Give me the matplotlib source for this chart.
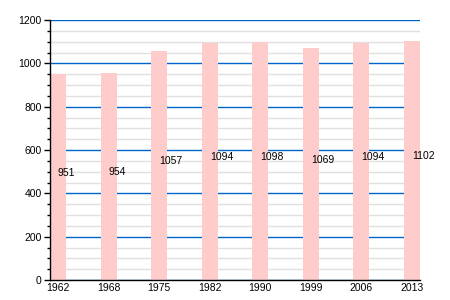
import numpy as np
import matplotlib.pyplot as plt
from matplotlib.ticker import MultipleLocator

plt.rcParams['font.family'] = ['Liberation Sans', 'DejaVu Sans']

years = ["1962", "1968", "1975", "1982", "1990", "1999", "2006", "2013"]
population = [951, 954, 1057, 1094, 1098, 1069, 1094, 1102]

fig = plt.figure(figsize=(4.5, 3), dpi=100)
ax = fig.add_axes([50 / 450, 20 / 300, 370 / 450, 260 / 300])

w = 0.316
x = np.arange(len(years))
ax.bar(x, population, width=w, color="#ffcccc", zorder=3)

for xi, v in zip(x, population):
    ax.annotate(str(v), (xi, v / 2), xytext=(0, 3), textcoords="offset points",
                ha="left", va="center", fontsize=7.5, zorder=4)

ax.set_xlim(-w / 2, len(years) - 1 + w / 2)
ax.set_ylim(0, 1200)
ax.yaxis.set_major_locator(MultipleLocator(200))
ax.yaxis.set_minor_locator(MultipleLocator(50))
ax.grid(axis="y", which="minor", color="#e0e0e0", lw=1, zorder=1)
ax.grid(axis="y", which="major", color="#0066cc", lw=1, zorder=2)

ax.set_xticks(x)
ax.set_xticklabels(years)
ax.tick_params(axis="x", length=0, pad=2, labelsize=7.5)
ax.tick_params(axis="y", which="major", length=4, width=1, labelsize=7.5, pad=2)
ax.tick_params(axis="y", which="minor", length=2, width=1)

for s in ["top", "right"]:
    ax.spines[s].set_visible(False)
ax.spines["left"].set_linewidth(1)
ax.spines["bottom"].set_linewidth(1)
ax.spines["left"].set_zorder(5)
ax.spines["bottom"].set_zorder(5)

fig.savefig("out.png", dpi=100)
